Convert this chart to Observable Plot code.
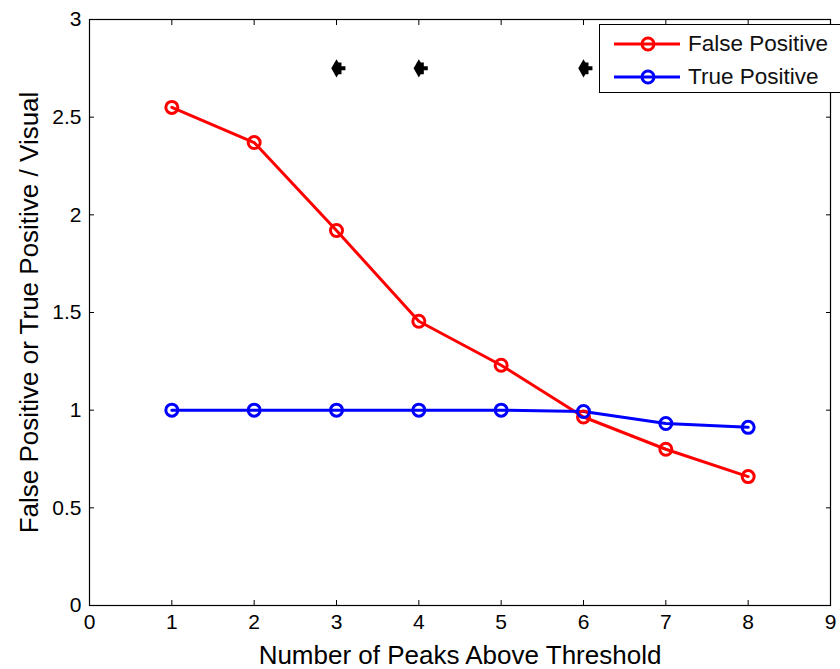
<!DOCTYPE html>
<html><head><meta charset="utf-8">
<script src="https://cdn.jsdelivr.net/npm/d3@7"></script>
<script src="https://cdn.jsdelivr.net/npm/@observablehq/plot@0.6"></script>
<style>
body{margin:0;background:#fff;font-family:"Liberation Sans",Arial,sans-serif;}
#wrap{position:relative;width:840px;height:669px;overflow:hidden;}
#legend{position:absolute;left:599px;top:24px;width:260px;height:69px;border:1.3px solid #000;background:#fff;box-sizing:border-box;font-size:22.5px;}
.row{position:absolute;left:12px;height:28px;display:flex;align-items:center;}
.row span{margin-left:6px;color:#111;}
</style></head>
<body><div id="wrap"><div id="legend"></div></div>
<script>
const peaks = [1,2,3,4,5,6,7,8];
const falsePositive = [2.55,2.37,1.92,1.455,1.23,0.965,0.80,0.66];
const truePositive = [1.0,1.0,1.0,1.0,1.0,0.993,0.932,0.912];
const starX = [3,4,6];
const starY = [2.75,2.75,2.75];
const xTicks = [0,1,2,3,4,5,6,7,8,9];
const yTicks = [0,0.5,1,1.5,2,2.5,3];
const seriesNames = ["False Positive","True Positive"];
const seriesColors = ["#ff0000","#0000ff"];

const rows = [];
peaks.forEach((p,i)=>{
  rows.push({x:p,y:falsePositive[i],s:seriesNames[0]});
  rows.push({x:p,y:truePositive[i],s:seriesNames[1]});
});
const stars = starX.map((x,i)=>({x,y:starY[i]}));

const chart = Plot.plot({
  width:840, height:669,
  marginLeft:89, marginRight:10, marginTop:19, marginBottom:64,
  style:{fontFamily:"Liberation Sans, Arial, sans-serif", fontSize:"21px", color:"#000", background:"#fff"},
  x:{domain:[0,9], ticks:xTicks, label:null},
  y:{domain:[0,3], ticks:yTicks, label:null},
  color:{domain:seriesNames, range:seriesColors},
  marks:[
    Plot.frame({stroke:"#000", strokeWidth:1.2}),
    Plot.axisX({anchor:"bottom", ticks:xTicks, tickSize:-5, tickPadding:14, fontSize:21, tickFormat:d=>String(d)}),
    Plot.axisX({anchor:"top", ticks:xTicks, tickSize:-5, tickFormat:()=>"" }),
    Plot.axisY({anchor:"left", ticks:yTicks, tickSize:-5, tickPadding:13, fontSize:21, tickFormat:d=>String(d)}),
    Plot.axisY({anchor:"right", ticks:yTicks, tickSize:-5, tickFormat:()=>""}),
    Plot.line(rows,{x:"x",y:"y",stroke:"s",strokeWidth:3}),
    Plot.dot(rows,{x:"x",y:"y",stroke:"s",r:6,strokeWidth:3,fill:"none"}),
    Plot.dot(stars,{x:"x",y:"y",symbol:"diamond",r:5.5,fill:"#000"}),
    Plot.dot(stars,{x:"x",y:"y",symbol:"cross",r:5,fill:"#000",dx:3}),
    Plot.text(["Number of Peaks Above Threshold"],{frameAnchor:"bottom",lineAnchor:"middle",textAnchor:"middle",dy:50,fontSize:26,fill:"#000"}),
    Plot.text(["False Positive or True Positive / Visual"],{frameAnchor:"left",textAnchor:"middle",lineAnchor:"middle",dx:-60,rotate:-90,fontSize:26,fill:"#000"})
  ]
});
document.getElementById("wrap").prepend(chart);

const leg = document.getElementById("legend");
seriesNames.forEach((n,i)=>{
  const r=document.createElement("div");
  r.className="row"; r.style.top=(i===0?5:38)+"px";
  r.innerHTML=`<svg width="70" height="24"><line x1="2" x2="68" y1="12" y2="12" stroke="${seriesColors[i]}" stroke-width="3"/><circle cx="36" cy="12" r="6" fill="none" stroke="${seriesColors[i]}" stroke-width="3"/></svg><span>${n}</span>`;
  leg.appendChild(r);
});
</script></body></html>
